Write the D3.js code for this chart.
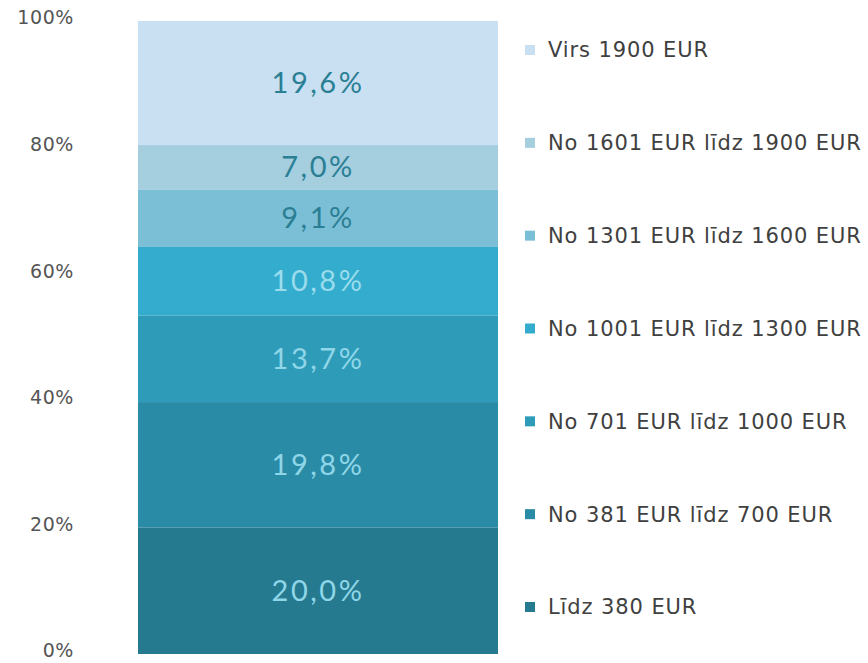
<!DOCTYPE html>
<html>
<head>
<meta charset="utf-8">
<script src="https://cdn.jsdelivr.net/npm/d3@7"></script>
<style>
    body { margin: 0; background: #fff; }
    .tick text { fill: #555; }
</style>
</head>
<body>
<div id="income_stack_chart"></div>
<script>
// Income groups, bottom of the stack first
const categories = ["Līdz 380 EUR", "No 381 EUR līdz 700 EUR", "No 701 EUR līdz 1000 EUR",
    "No 1001 EUR līdz 1300 EUR", "No 1301 EUR līdz 1600 EUR", "No 1601 EUR līdz 1900 EUR", "Virs 1900 EUR"];
const shares = [20.0, 19.8, 13.7, 10.8, 9.1, 7.0, 19.6];
const colors = ["#257a90", "#2a8ba6", "#2e9cb8", "#33acce", "#7bbfd6", "#a5cedf", "#c8e0f1"];
const labelColors = ["#8fd6e8", "#8fd6e8", "#8fd6e8", "#9adcec", "#2b7f95", "#2b7f95", "#2b7f95"];
const yTicks = [0, 20, 40, 60, 80, 100];

function create_income_stack_chart(width, height) {
    var margin = { top: 21, right: 370, bottom: 9, left: 138 };
    const innerWidth = width - margin.left - margin.right;
    const innerHeight = height - margin.top - margin.bottom;

    var svg = d3.select("#income_stack_chart").append("svg")
        .attr("width", width)
        .attr("height", height)
        .append("g")
        .attr("transform", "translate(" + margin.left + "," + margin.top + ")");

    // one row holding every share
    var row = { group: "all" };
    categories.forEach((c, i) => row[c] = shares[i]);

    var stack = d3.stack().keys(categories);
    var layers = stack([row]);

    var x = d3.scaleBand().domain(["all"]).range([0, innerWidth]).padding(0);
    var y = d3.scaleLinear().domain([0, 100]).range([innerHeight, 0]);

    // Draw bars
    var layer = svg.selectAll(".layer")
        .data(layers)
        .enter().append("g")
        .attr("class", "layer")
        .style("fill", (d, i) => colors[i]);

    layer.selectAll("rect")
        .data(d => d)
        .enter().append("rect")
        .attr("x", d => x(d.data.group))
        .attr("y", d => y(d[1]))
        .attr("width", x.bandwidth())
        .attr("height", d => y(d[0]) - y(d[1]));

    // value labels inside the segments
    layer.selectAll("text")
        .data(d => d)
        .enter().append("text")
        .attr("x", d => x(d.data.group) + x.bandwidth() / 2)
        .attr("y", d => (y(d[0]) + y(d[1])) / 2)
        .attr("dy", "0.35em")
        .attr("text-anchor", "middle")
        .style("font-family", "Lato, 'Open Sans', sans-serif")
        .style("font-size", "29px")
        .style("letter-spacing", "2.5px")
        .style("fill", function () { return labelColors[d3.select(this.parentNode).datum().index]; })
        .text(d => d3.format(".1f")(d[1] - d[0]).replace(".", ",") + "%");

    // y axis
    var yAxis = d3.axisLeft(y).tickValues(yTicks).tickSize(0).tickPadding(64)
        .tickFormat(d => d + "%");
    svg.append("g")
        .attr("class", "y axis")
        .call(yAxis)
        .style("font-family", "'DejaVu Sans', sans-serif")
        .style("font-size", "19px")
        .style("letter-spacing", "0.6px")
        .call(g => g.select(".domain").remove())
        .call(g => g.selectAll(".tick text").attr("dy", "0.15em"));

    // legend, top entry first
    var legendX = innerWidth + 27;
    var legendY = d3.scalePoint().domain(categories.slice().reverse()).range([29, 586]);

    var legend = svg.selectAll(".legend")
        .data(categories)
        .enter().append("g")
        .attr("class", "legend")
        .attr("transform", d => "translate(" + legendX + "," + legendY(d) + ")");

    legend.append("rect")
        .attr("x", 0)
        .attr("y", -5)
        .attr("width", 10)
        .attr("height", 10)
        .style("fill", (d, i) => colors[i]);

    legend.append("text")
        .attr("x", 23)
        .attr("y", 0)
        .attr("dy", "0.35em")
        .style("font-family", "'DejaVu Sans', sans-serif")
        .style("font-size", "21px")
        .style("letter-spacing", "0.9px")
        .style("fill", "#404040")
        .text(d => d);
}

create_income_stack_chart(868, 663);
</script>
</body>
</html>
